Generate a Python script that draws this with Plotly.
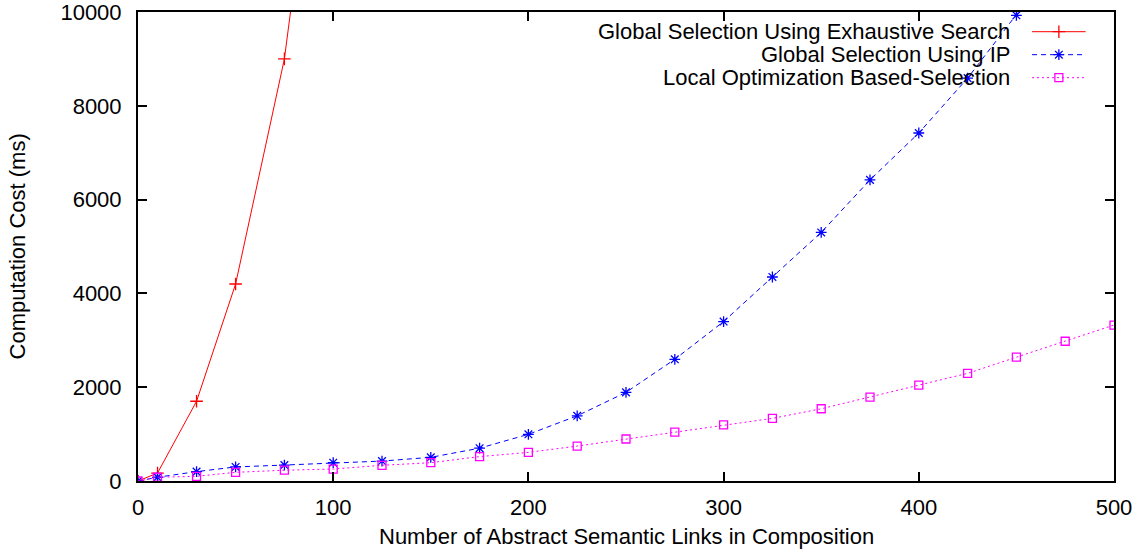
import plotly.graph_objects as go

links_exh = [0, 10, 30, 50, 75, 100]
cost_exh = [0, 170, 1700, 4200, 9000, 17000]

links = [0, 10, 30, 50, 75, 100, 125, 150, 175, 200, 225, 250, 275, 300, 325, 350, 375, 400, 425, 450, 475, 500]
cost_ip = [0, 80, 200, 300, 340, 390, 425, 505, 700, 995, 1390, 1890, 2595, 3400, 4350, 5300, 6420, 7420, 8590, 9930, 11300, 12800]
cost_local = [0, 80, 100, 185, 230, 255, 335, 390, 520, 610, 745, 895, 1040, 1195, 1335, 1540, 1790, 2045, 2295, 2640, 2980, 3325]

x_ticks = [0, 100, 200, 300, 400, 500]
y_ticks = [0, 2000, 4000, 6000, 8000, 10000]
y_tick_labels = ["0", "2000", "4000", "6000", "8000", "10000"]

x_title = "Number of Abstract Semantic Links in Composition"
y_title = "Computation Cost (ms)"

names = ["Global Selection Using Exhaustive Search", "Global Selection Using IP", "Local Optimization Based-Selection"]
colors = ["#ff0000", "#0000ff", "#ff00ff"]
dashes = ["solid", "5px,4px", "2px,3px"]
symbols = ["cross-thin-open", "asterisk-open", "square-open"]
msizes = [9, 9, 8]

FONT = "Liberation Sans, Arial, sans-serif"
FS = 22

fig = go.Figure()
series = [(links_exh, cost_exh), (links, cost_ip), (links, cost_local)]
for (xs, ys), n, c, d, s, ms in zip(series, names, colors, dashes, symbols, msizes):
    fig.add_trace(go.Scatter(
        x=xs, y=ys, name=n, mode="lines+markers",
        line=dict(color=c, width=1, dash=d),
        marker=dict(symbol=s, size=ms, color=c, line=dict(color=c, width=1.3)),
        showlegend=False, cliponaxis=True,
    ))

# manual gnuplot-style legend (text right-aligned, sample to the right)
leg_rows = [0.958, 0.909, 0.860]
for n, c, d, s, ms, yy in zip(names, colors, dashes, symbols, msizes, leg_rows):
    fig.add_trace(go.Scatter(
        x=[0.916, 0.9435, 0.971], y=[yy, yy, yy], xaxis="x2", yaxis="y2",
        mode="lines+markers",
        line=dict(color=c, width=1, dash=d),
        marker=dict(symbol=s, size=ms, color=c, line=dict(color=c, width=1.3)),
        selectedpoints=[1], unselected=dict(marker=dict(opacity=0)),
        showlegend=False, hoverinfo="skip",
    ))
    fig.add_annotation(x=0.895, y=yy, xref="x2", yref="y2", text=n, showarrow=False,
                       xanchor="right", yanchor="middle",
                       font=dict(family=FONT, size=FS, color="black"))

# axis titles
fig.add_annotation(x=0.5, y=-0.119, xref="paper", yref="paper", text=x_title, showarrow=False,
                   xanchor="center", yanchor="middle", font=dict(family=FONT, size=FS, color="black"))
fig.add_annotation(x=-0.123, y=0.5, xref="paper", yref="paper", text=y_title, showarrow=False,
                   textangle=-90, xanchor="center", yanchor="middle",
                   font=dict(family=FONT, size=FS, color="black"))

axis_common = dict(
    showline=True, linecolor="black", linewidth=2, mirror="ticks",
    ticks="inside", ticklen=9, tickwidth=1.5, tickcolor="black",
    showgrid=False, zeroline=False, automargin=False,
    ticklabeloverflow="allow",
    tickfont=dict(family=FONT, size=FS, color="black"),
)

fig.update_layout(
    width=1140, height=552,
    margin=dict(l=138, r=26, t=12, b=71),
    paper_bgcolor="white", plot_bgcolor="white",
    xaxis=dict(range=[0, 500], tickvals=x_ticks, ticklabelstandoff=6, **axis_common),
    yaxis=dict(range=[0, 10000], tickvals=y_ticks, ticktext=y_tick_labels, ticklabelstandoff=10,
               **axis_common),
    xaxis2=dict(range=[0, 1], overlaying="x", visible=False, fixedrange=True),
    yaxis2=dict(range=[0, 1], overlaying="y", visible=False, fixedrange=True),
    showlegend=False,
)

fig.write_html("out.html", config={"displayModeBar": False},
               post_script="document.body.style.margin='0';document.body.style.overflow='hidden';")
